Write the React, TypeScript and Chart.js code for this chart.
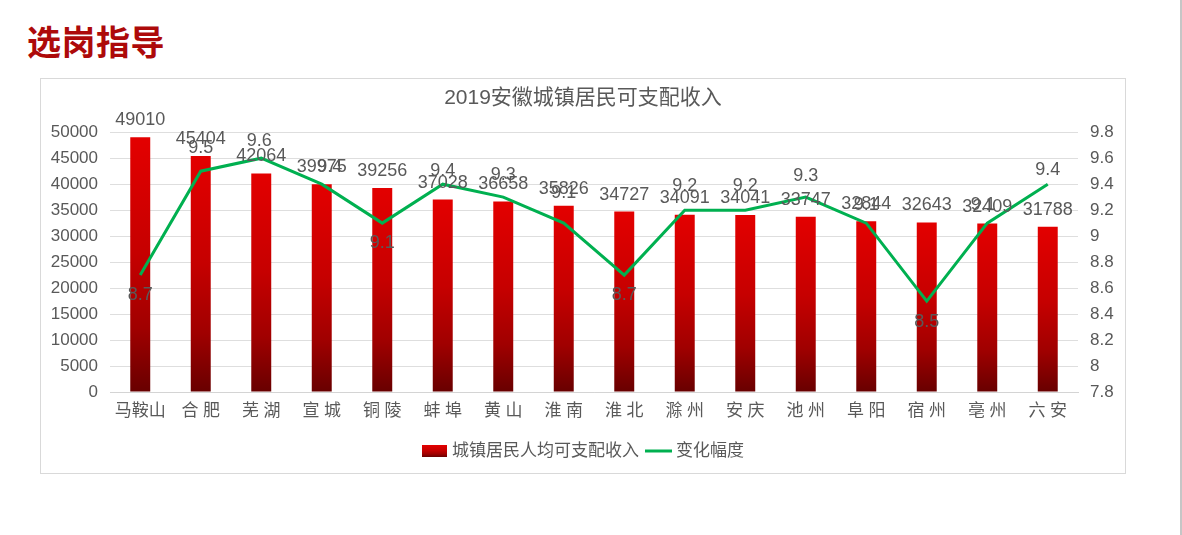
import React, { useEffect, useRef } from 'react';
import { Chart, registerables } from 'chart.js';

Chart.register(...registerables);

const CITIES = ['马鞍山', '合 肥', '芜 湖', '宣 城', '铜 陵', '蚌 埠', '黄 山', '淮 南', '淮 北', '滁 州', '安 庆', '池 州', '阜 阳', '宿 州', '亳 州', '六 安'];
const INCOME = [49010, 45404, 42064, 39975, 39256, 37028, 36658, 35826, 34727, 34091, 34041, 33747, 32844, 32643, 32409, 31788];
const CHANGE = [8.7, 9.5, 9.6, 9.4, 9.1, 9.4, 9.3, 9.1, 8.7, 9.2, 9.2, 9.3, 9.1, 8.5, 9.1, 9.4];
const LEFT_TICKS = [0, 5000, 10000, 15000, 20000, 25000, 30000, 35000, 40000, 45000, 50000];
const RIGHT_TICKS = [7.8, 8, 8.2, 8.4, 8.6, 8.8, 9, 9.2, 9.4, 9.6, 9.8];

// label placement for the line's value labels (pixel offsets from each point)
const CHANGE_LABEL_DY = [20, -23, -17, -17, 20, -13, -22, -30, 20, -24, -24, -21, -18, 21, -18, -14];
const CHANGE_LABEL_DX = [0, 0, -2, 8, 0, 0, 0, 0, 0, 0, 0, 0, 0, 0, -4, 0];

const BAR_NAME = '城镇居民人均可支配收入';
const LINE_NAME = '变化幅度';
const CHART_TITLE = '2019安徽城镇居民可支配收入';

const FONT = '"Liberation Sans", "Noto Sans CJK SC", sans-serif';
const TEXT = '#595959';
const GREEN = '#00b050';

function redGradient(ctx: CanvasRenderingContext2D, top: number, bottom: number) {
  const g = ctx.createLinearGradient(0, top, 0, bottom);
  g.addColorStop(0, '#e30000');
  g.addColorStop(0.45, '#c60000');
  g.addColorStop(0.75, '#a00000');
  g.addColorStop(1, '#680000');
  return g;
}

const labelPlugin = {
  id: 'valueLabels',
  afterDatasetsDraw(chart: any) {
    const ctx = chart.ctx as CanvasRenderingContext2D;
    ctx.save();
    ctx.fillStyle = TEXT;
    ctx.textAlign = 'center';
    ctx.textBaseline = 'middle';
    ctx.font = `18px ${FONT}`;
    const barMeta = chart.getDatasetMeta(0);
    barMeta.data.forEach((el: any, i: number) => {
      ctx.fillText(String(INCOME[i]), el.x, el.y - 17);
    });
    const lineMeta = chart.getDatasetMeta(1);
    lineMeta.data.forEach((pt: any, i: number) => {
      ctx.fillText(String(CHANGE[i]), pt.x + CHANGE_LABEL_DX[i], pt.y + CHANGE_LABEL_DY[i]);
    });
    ctx.restore();
  },
  afterDraw(chart: any) {
    const ctx = chart.ctx as CanvasRenderingContext2D;
    ctx.save();
    ctx.font = `17px ${FONT}`;
    const boxW = 25, boxH = 12, lineW = 27;
    const t1 = ctx.measureText(BAR_NAME).width;
    const t2 = ctx.measureText(LINE_NAME).width;
    const total = boxW + 5 + t1 + 6 + lineW + 4 + t2;
    let x = chart.width / 2 - total / 2;
    const cy = 372;
    ctx.fillStyle = redGradient(ctx, cy - boxH / 2, cy + boxH / 2);
    ctx.fillRect(x, cy - boxH / 2, boxW, boxH);
    x += boxW + 5;
    ctx.fillStyle = TEXT;
    ctx.textAlign = 'left';
    ctx.textBaseline = 'middle';
    ctx.fillText(BAR_NAME, x, cy);
    x += t1 + 6;
    ctx.strokeStyle = GREEN;
    ctx.lineWidth = 3;
    ctx.beginPath();
    ctx.moveTo(x, cy);
    ctx.lineTo(x + lineW, cy);
    ctx.stroke();
    x += lineW + 4;
    ctx.fillText(LINE_NAME, x, cy);
    ctx.restore();
  },
};

export default function App() {
  const ref = useRef<HTMLCanvasElement | null>(null);

  useEffect(() => {
    if (!ref.current) return;
    const chart = new Chart(ref.current, {
      type: 'bar',
      data: {
        labels: CITIES,
        datasets: [
          {
            type: 'bar',
            label: BAR_NAME,
            data: INCOME,
            yAxisID: 'y',
            order: 1,
            categoryPercentage: 1,
            barPercentage: 0.33,
            backgroundColor: (c: any) => {
              const chart = c.chart;
              if (!chart.chartArea || c.type !== 'data') return '#c60000';
              const ys = chart.scales.y;
              const top = ys.getPixelForValue(c.raw);
              const bottom = ys.getPixelForValue(0);
              return redGradient(chart.ctx, top, bottom);
            },
          },
          {
            type: 'line',
            label: LINE_NAME,
            data: CHANGE,
            yAxisID: 'y1',
            order: 0,
            borderColor: GREEN,
            backgroundColor: GREEN,
            borderWidth: 3,
            pointRadius: 0,
            tension: 0,
          },
        ],
      } as any,
      options: {
        responsive: false,
        animation: false,
        devicePixelRatio: 1,
        layout: { padding: { left: 0, right: 0, top: 0, bottom: 31 } },
        plugins: {
          legend: { display: false },
          tooltip: { enabled: false },
          title: {
            display: true,
            text: CHART_TITLE,
            color: TEXT,
            font: { size: 21, family: FONT, weight: 'normal' },
            padding: { top: 7, bottom: 21 },
          },
        },
        scales: {
          x: {
            grid: { drawOnChartArea: false, drawTicks: false },
            border: { display: true, color: '#d4d4d4', width: 1 },
            ticks: { color: TEXT, font: { size: 17, family: FONT }, padding: 9, maxRotation: 0, autoSkip: false },
            afterFit: (s: any) => { s.height = 50; },
          },
          y: {
            position: 'left',
            min: 0,
            max: 50000,
            grid: { color: '#dedede', drawTicks: false },
            border: { display: false },
            ticks: { color: TEXT, font: { size: 17, family: FONT }, padding: 12, callback: (v: any) => String(v) },
            afterBuildTicks: (s: any) => { s.ticks = LEFT_TICKS.map((v) => ({ value: v })); },
            afterFit: (s: any) => { s.width = 69; },
          },
          y1: {
            position: 'right',
            min: 7.8,
            max: 9.8,
            grid: { drawOnChartArea: false, drawTicks: false },
            border: { display: false },
            ticks: { color: TEXT, font: { size: 17, family: FONT }, padding: 12, callback: (v: any) => String(Number(Number(v).toFixed(1))) },
            afterBuildTicks: (s: any) => { s.ticks = RIGHT_TICKS.map((v) => ({ value: v })); },
            afterFit: (s: any) => { s.width = 47; },
          },
        },
      } as any,
      plugins: [labelPlugin],
    });
    return () => chart.destroy();
  }, []);

  return (
    <div style={{ position: 'absolute', left: 0, top: 0, width: 1182, height: 535, background: '#fff', overflow: 'hidden' }}>
      <div
        style={{
          position: 'absolute',
          left: 27,
          top: 24,
          fontFamily: '"Noto Sans CJK SC", sans-serif',
          fontWeight: 'bold',
          fontSize: 34,
          lineHeight: '34px',
          letterSpacing: '0.5px',
          color: '#ad0a0a',
          whiteSpace: 'nowrap',
        }}
      >
        选岗指导
      </div>
      <div
        style={{
          position: 'absolute',
          left: 40,
          top: 78,
          width: 1084,
          height: 394,
          border: '1px solid #d9d9d9',
        }}
      >
        <canvas ref={ref} width={1084} height={394} style={{ display: 'block', width: 1084, height: 394 }} />
      </div>
      <div style={{ position: 'absolute', left: 1180, top: 0, width: 2, height: 535, background: '#c6c6c6' }} />
    </div>
  );
}
